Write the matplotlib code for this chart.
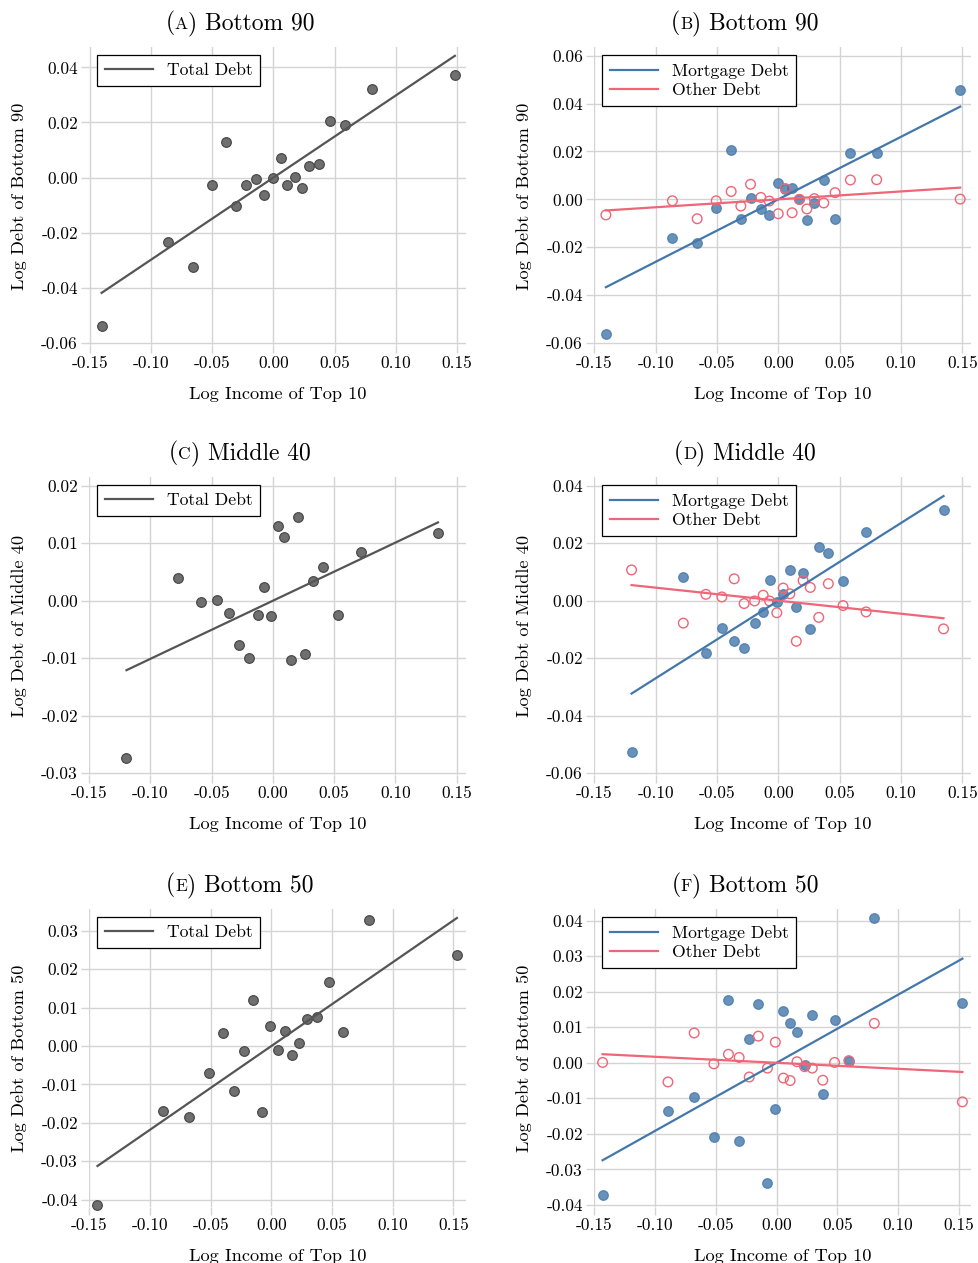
import numpy as np
import matplotlib
matplotlib.use("Agg")
import matplotlib.pyplot as plt
from matplotlib.offsetbox import TextArea, HPacker, AnnotationBbox

plt.rcParams['font.family'] = 'serif'
plt.rcParams['font.serif'] = ['cmr10']
plt.rcParams['mathtext.fontset'] = 'cm'
plt.rcParams['axes.unicode_minus'] = False
plt.rcParams['axes.formatter.use_mathtext'] = True

# binned scatter data
x_b90 = [-0.1405, -0.0863, -0.0661, -0.0506, -0.0384, -0.0305, -0.0226, -0.0142, -0.0074, 0.0,
         0.0058, 0.0113, 0.0172, 0.0233, 0.0294, 0.0371, 0.0463, 0.0588, 0.0802, 0.1483]
total_b90 = [-0.0538, -0.0235, -0.0324, -0.0028, 0.0129, -0.0104, -0.0028, -0.0005, -0.0064, -0.0001,
             0.0071, -0.0027, 0.0002, -0.0039, 0.0041, 0.0050, 0.0206, 0.0191, 0.0321, 0.0373]
mort_b90 = [-0.0561, -0.0160, -0.0182, -0.0038, 0.0205, -0.0082, 0.0007, -0.0039, -0.0067, 0.0068,
            0.0045, 0.0047, 0.0001, -0.0088, -0.0017, 0.0081, -0.0084, 0.0195, 0.0193, 0.0457]
other_b90 = [-0.0065, -0.0006, -0.0081, -0.0006, 0.0033, -0.0028, 0.0063, 0.0008, -0.0007, -0.0060,
             0.0045, -0.0056, 0.0000, -0.0040, 0.0003, -0.0015, 0.0028, 0.0081, 0.0082, 0.0001]

x_m40 = [-0.1196, -0.0774, -0.0590, -0.0460, -0.0359, -0.0278, -0.0193, -0.0123, -0.0071, -0.0012,
         0.0040, 0.0094, 0.0147, 0.0202, 0.0261, 0.0330, 0.0408, 0.0528, 0.0716, 0.1347]
total_m40 = [-0.0274, 0.0040, -0.0003, 0.0001, -0.0022, -0.0077, -0.0099, -0.0025, 0.0023, -0.0026,
             0.0129, 0.0110, -0.0103, 0.0145, -0.0093, 0.0035, 0.0059, -0.0025, 0.0084, 0.0118]
mort_m40 = [-0.0527, 0.0083, -0.0183, -0.0095, -0.0139, -0.0163, -0.0078, -0.0039, 0.0073, -0.0005,
            0.0022, 0.0108, -0.0021, 0.0096, -0.0098, 0.0187, 0.0165, 0.0068, 0.0240, 0.0316]
other_m40 = [0.0107, -0.0078, 0.0022, 0.0013, 0.0076, -0.0010, -0.0001, 0.0019, -0.0001, -0.0042,
             0.0044, 0.0024, -0.0141, 0.0070, 0.0046, -0.0058, 0.0059, -0.0017, -0.0039, -0.0098]

x_b50 = [-0.1432, -0.0894, -0.0678, -0.0516, -0.0396, -0.0308, -0.0225, -0.0150, -0.0075, -0.0010,
         0.0057, 0.0112, 0.0168, 0.0231, 0.0294, 0.0381, 0.0478, 0.0595, 0.0805, 0.1530]
total_b50 = [-0.0414, -0.0168, -0.0184, -0.0070, 0.0035, -0.0117, -0.0013, 0.0120, -0.0172, 0.0052,
             -0.0009, 0.0039, -0.0023, 0.0008, 0.0071, 0.0077, 0.0167, 0.0036, 0.0329, 0.0238]
mort_b50 = [-0.0372, -0.0136, -0.0095, -0.0208, 0.0178, -0.0219, 0.0067, 0.0165, -0.0338, -0.0131,
            0.0145, 0.0113, 0.0087, -0.0005, 0.0134, -0.0088, 0.0121, 0.0004, 0.0409, 0.0169]
other_b50 = [0.0001, -0.0054, 0.0084, -0.0003, 0.0024, 0.0015, -0.0040, 0.0075, -0.0015, 0.0058,
             -0.0043, -0.0050, 0.0003, -0.0011, -0.0015, -0.0049, 0.0001, 0.0006, 0.0111, -0.0110]

# slopes of the fitted lines (through origin)
slope_total = [0.298, 0.101, 0.218]
slope_mort = [0.261, 0.270, 0.1916]
slope_other = [0.033, -0.0453, -0.0169]

groups = ["Bottom 90", "Middle 40", "Bottom 50"]
letters = [("A", "B"), ("C", "D"), ("E", "F")]
xs = [x_b90, x_m40, x_b50]
totals = [total_b90, total_m40, total_b50]
morts = [mort_b90, mort_m40, mort_b50]
others = [other_b90, other_m40, other_b50]

xticks = [-0.15, -0.10, -0.05, 0.0, 0.05, 0.10, 0.15]
yticks_left = [[-0.06, -0.04, -0.02, 0.0, 0.02, 0.04],
               [-0.03, -0.02, -0.01, 0.0, 0.01, 0.02],
               [-0.04, -0.03, -0.02, -0.01, 0.0, 0.01, 0.02, 0.03]]
yticks_right = [[-0.06, -0.04, -0.02, 0.0, 0.02, 0.04, 0.06],
                [-0.06, -0.04, -0.02, 0.0, 0.02, 0.04],
                [-0.04, -0.03, -0.02, -0.01, 0.0, 0.01, 0.02, 0.03, 0.04]]
xlim_left = [(-0.1508, 0.1574), (-0.1502, 0.1576), (-0.1502, 0.1605)]
xlim_right = [(-0.1502, 0.1571), (-0.1502, 0.1571), (-0.1503, 0.1601)]
ylim_left = [(-0.0608, 0.0474), (-0.0303, 0.0215), (-0.0419, 0.0357)]
ylim_right = [(-0.0608, 0.0636), (-0.0606, 0.0430), (-0.0406, 0.0433)]

GREY = '#555555'
BLUE = '#4477AA'
RED = '#EE6677'
GRID = '#d4d4d4'

W, H = 979, 1263
fig = plt.figure(figsize=(W / 100, H / 100), dpi=100)

col_left = [89, 594]
row_top = [47, 477, 909]
aw, ah = 377, 298


def style_axes(ax, yticks, xlim, ylim, ylabel):
    ax.set_xlim(*xlim)
    ax.set_ylim(*ylim)
    ax.set_xticks(xticks)
    ax.set_yticks(yticks)
    ax.set_xticklabels(["%.2f" % t for t in xticks])
    ax.set_yticklabels(["%.2f" % t for t in yticks])
    for s in ax.spines.values():
        s.set_visible(False)
    ax.grid(True, color=GRID, lw=1.0)
    ax.set_axisbelow(True)
    ax.tick_params(axis='both', length=6, width=1.0, color=GRID, labelsize=12.5, pad=2)
    ax.set_xlabel("Log Income of Top 10", fontsize=13.2, labelpad=11)
    ax.set_ylabel(ylabel, fontsize=13.2)
    ax.yaxis.set_label_coords(-0.165, 0.5)


def add_title(letter, name, cx, cy):
    parts = [TextArea("(", textprops=dict(size=17)),
             TextArea(letter, textprops=dict(size=12.5)),
             TextArea(") " + name, textprops=dict(size=17))]
    box = HPacker(children=parts, align="baseline", pad=0, sep=0)
    ab = AnnotationBbox(box, (cx / W, 1 - cy / H), xycoords='figure fraction',
                        box_alignment=(0.5, 0.5), frameon=False)
    fig.add_artist(ab)


def add_legend(ax):
    leg = ax.legend(loc='upper left', fontsize=12.7, frameon=True, fancybox=False,
                    edgecolor='black', framealpha=1, borderaxespad=0.45, handlelength=2.7,
                    borderpad=0.45, labelspacing=0.25)
    leg.get_frame().set_linewidth(0.9)


for r in range(3):
    x = np.array(xs[r])
    xl = np.array([x.min(), x.max()])
    top = row_top[r]
    ylabel = "Log Debt of " + groups[r]

    # left: total debt
    axl = fig.add_axes([col_left[0] / W, 1 - (top + ah) / H, aw / W, ah / H])
    style_axes(axl, yticks_left[r], xlim_left[r], ylim_left[r], ylabel)
    axl.scatter(x, totals[r], s=48, facecolor='#6f6f6f', edgecolor='#4a4a4a', lw=0.9,
                zorder=3, clip_on=False)
    axl.plot(xl, slope_total[r] * xl, color=GREY, lw=1.6, label="Total Debt", zorder=4)
    add_legend(axl)

    # right: mortgage vs other
    axr = fig.add_axes([col_left[1] / W, 1 - (top + ah) / H, aw / W, ah / H])
    style_axes(axr, yticks_right[r], xlim_right[r], ylim_right[r], ylabel)
    axr.scatter(x, morts[r], s=48, facecolor=BLUE, alpha=0.8, edgecolor=BLUE, lw=0.9,
                zorder=3, clip_on=False)
    axr.scatter(x, others[r], s=48, facecolor='none', edgecolor=RED, lw=1.0,
                zorder=3, clip_on=False)
    axr.plot(xl, slope_mort[r] * xl, color=BLUE, lw=1.6, label="Mortgage Debt", zorder=4)
    axr.plot(xl, slope_other[r] * xl, color=RED, lw=1.6, label="Other Debt", zorder=4)
    add_legend(axr)

    add_title(letters[r][0], groups[r], 240, top - 24)
    add_title(letters[r][1], groups[r], 745, top - 24)

fig.savefig("out.png", dpi=100)
